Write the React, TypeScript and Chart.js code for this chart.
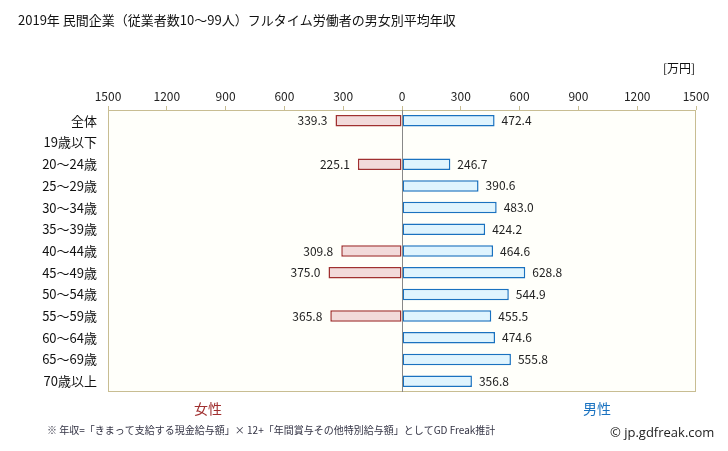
import React, { useEffect, useRef } from "react";
import { Chart, registerables } from "chart.js";

Chart.register(...registerables);

const categories = [
  "全体", "19歳以下", "20〜24歳", "25〜29歳", "30〜34歳", "35〜39歳", "40〜44歳",
  "45〜49歳", "50〜54歳", "55〜59歳", "60〜64歳", "65〜69歳", "70歳以上",
];
const femaleValues: (number | null)[] = [339.3, null, 225.1, null, null, null, 309.8, 375.0, null, 365.8, null, null, null];
const maleValues: (number | null)[] = [472.4, null, 246.7, 390.6, 483.0, 424.2, 464.6, 628.8, 544.9, 455.5, 474.6, 555.8, 356.8];
const tickValues = [-1500, -1200, -900, -600, -300, 0, 300, 600, 900, 1200, 1500];

const FONT = "'Noto Sans CJK JP', 'Noto Sans', sans-serif";

export default function App() {
  const ref = useRef<HTMLCanvasElement | null>(null);
  useEffect(() => {
    if (!ref.current) return;
    const decor = {
      id: "decor",
      beforeDraw(chart: any) {
        const { ctx, chartArea: a } = chart;
        ctx.save();
        ctx.fillStyle = "#ffffff";
        ctx.fillRect(0, 0, chart.width, chart.height);
        ctx.fillStyle = "#fffffa";
        ctx.fillRect(a.left, a.top, a.right - a.left, a.bottom - a.top);
        ctx.restore();
      },
      afterDatasetsDraw(chart: any) {
        const { ctx, chartArea: a } = chart;
        const xs = chart.scales.x;
        ctx.save();
        ctx.strokeStyle = "#c8bd92";
        ctx.lineWidth = 1;
        ctx.strokeRect(a.left + 0.5, a.top + 0.5, a.right - a.left - 1, a.bottom - a.top - 1);
        const zx = Math.round(xs.getPixelForValue(0)) + 0.5;
        ctx.strokeStyle = "#888888";
        ctx.beginPath();
        ctx.moveTo(zx, a.top);
        ctx.lineTo(zx, a.bottom);
        ctx.stroke();
        ctx.font = `12px ${FONT}`;
        ctx.fillStyle = "#222222";
        ctx.textBaseline = "middle";
        chart.data.datasets.forEach((ds: any, di: number) => {
          const meta = chart.getDatasetMeta(di);
          meta.data.forEach((el: any, i: number) => {
            const v = ds.data[i];
            if (v === null || v === undefined) return;
            const txt = Math.abs(v).toFixed(1);
            if (v < 0) {
              ctx.textAlign = "right";
              ctx.fillText(txt, el.x - 8, el.y);
            } else {
              ctx.textAlign = "left";
              ctx.fillText(txt, el.x + 7, el.y);
            }
          });
        });
        ctx.restore();
      },
      afterDraw(chart: any) {
        const { ctx } = chart;
        ctx.save();
        ctx.textBaseline = "middle";
        ctx.textAlign = "left";
        ctx.fillStyle = "#111111";
        ctx.font = `13px ${FONT}`;
        ctx.fillText("2019年 民間企業（従業者数10〜99人）フルタイム労働者の男女別平均年収", 18, 20);
        ctx.font = `12px ${FONT}`;
        ctx.fillText("[万円]", 663, 68);
        ctx.textAlign = "center";
        ctx.font = `14px ${FONT}`;
        ctx.fillStyle = "#a03030";
        ctx.fillText("女性", 208, 409);
        ctx.fillStyle = "#1a72c0";
        ctx.fillText("男性", 597, 409);
        ctx.textAlign = "left";
        ctx.font = `10px ${FONT}`;
        ctx.fillStyle = "#333344";
        ctx.fillText("※ 年収=「きまって支給する現金給与額」× 12+「年間賞与その他特別給与額」としてGD Freak推計", 47, 430);
        ctx.font = `13px 'Open Sans', 'Noto Sans', sans-serif`;
        ctx.fillStyle = "#222222";
        ctx.fillText("© jp.gdfreak.com", 610, 433);
        ctx.restore();
      },
    };
    const chart = new Chart(ref.current, {
      type: "bar",
      data: {
        labels: categories,
        datasets: [
          {
            label: "女性",
            data: femaleValues.map((v) => (v === null ? null : -v)),
            backgroundColor: "#f2dada",
            borderColor: "#a03030",
            borderWidth: 1.5,
            borderSkipped: false,
            barPercentage: 0.53,
            categoryPercentage: 1,
          },
          {
            label: "男性",
            data: maleValues,
            backgroundColor: "#dff4fe",
            borderColor: "#1a72c0",
            borderWidth: 1.5,
            borderSkipped: false,
            barPercentage: 0.53,
            categoryPercentage: 1,
          },
        ],
      },
      plugins: [decor],
      options: {
        indexAxis: "y",
        animation: false,
        responsive: false,
        maintainAspectRatio: false,
        layout: { padding: { left: 0, right: 32, top: 0, bottom: 59 } },
        plugins: {
          legend: { display: false },
          tooltip: { enabled: false },
          title: { display: false },
        },
        scales: {
          x: {
            position: "top",
            min: -1500,
            max: 1500,
            afterBuildTicks: (scale: any) => {
              scale.ticks = tickValues.map((v) => ({ value: v }));
            },
            afterFit: (scale: any) => {
              scale.height = 110;
            },
            ticks: {
              callback: (v: any) => String(Math.abs(Number(v))),
              font: { family: FONT, size: 12 },
              color: "#222222",
              padding: 2,
              maxRotation: 0,
              autoSkip: false,
            },
            grid: {
              drawOnChartArea: false,
              drawTicks: true,
              tickLength: 4,
              color: "#c8bd92",
            },
            border: { display: false },
          },
          y: {
            stacked: true,
            afterFit: (scale: any) => {
              scale.width = 108;
            },
            ticks: {
              font: { family: FONT, size: 13 },
              color: "#111111",
              padding: 11,
              autoSkip: false,
            },
            grid: { display: false, drawTicks: false },
            border: { display: false },
          },
        },
      },
    } as any);
    return () => chart.destroy();
  }, []);
  return (
    <div style={{ position: "fixed", left: 0, top: 0, width: 728, height: 451, background: "#fff" }}>
      <canvas ref={ref} width={728} height={451} style={{ width: 728, height: 451, display: "block" }} />
    </div>
  );
}
